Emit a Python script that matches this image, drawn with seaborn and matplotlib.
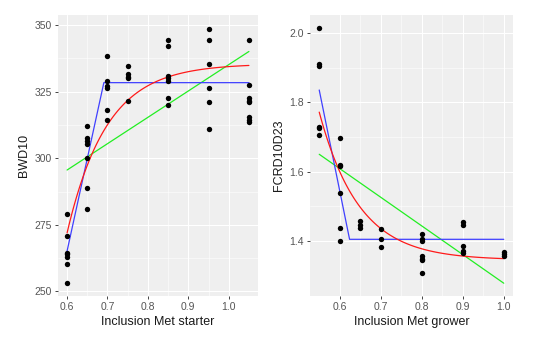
import numpy as np
import pandas as pd
import matplotlib
matplotlib.use("Agg")
import matplotlib.pyplot as plt
import seaborn as sns

# --- Starter phase: body weight at day 10 ---
starter_met = [0.60, 0.65, 0.70, 0.75, 0.85, 0.95, 1.05]
bwd10 = [
    [279, 271, 264.5, 264, 263, 260.5, 253],
    [312, 307.5, 306.5, 305.5, 300, 289, 281],
    [338.5, 329, 327, 326.5, 318, 314.5],
    [334.5, 331.5, 330.5, 330, 321.5],
    [344.5, 342, 331, 330, 329, 322.5, 320],
    [348.5, 344.5, 335.5, 326.5, 321, 311],
    [344.5, 327.5, 322.5, 321.5, 321, 315.5, 314.5, 313.5],
]
# broken-line fit: (start, breakpoint, end)
starter_bl_x = [0.60, 0.691, 1.05]
starter_bl_y = [265.2, 328.4, 328.4]
# exponential fit: y = a + b * exp(-k * (x - x0))
starter_exp = dict(a=335.5, b=-63.5, k=10.2, x0=0.60)
# linear fit endpoints
starter_lin_x = [0.60, 1.05]
starter_lin_y = [295.6, 340.1]

# --- Grower phase: feed conversion ratio day 10-23 ---
grower_met = [0.55, 0.60, 0.65, 0.70, 0.80, 0.90, 1.00]
fcrd10d23 = [
    [2.015, 1.91, 1.905, 1.73, 1.727, 1.707],
    [1.696, 1.618, 1.615, 1.538, 1.437, 1.398],
    [1.456, 1.445, 1.438],
    [1.435, 1.404, 1.382],
    [1.42, 1.406, 1.398, 1.355, 1.348, 1.343, 1.306],
    [1.454, 1.444, 1.386, 1.37, 1.365],
    [1.367, 1.362, 1.357],
]
grower_bl_x = [0.55, 0.624, 1.00]
grower_bl_y = [1.836, 1.404, 1.404]
grower_exp = dict(a=1.344, b=0.428, k=10.3, x0=0.55)
grower_lin_x = [0.55, 1.00]
grower_lin_y = [1.650, 1.277]


def long_frame(levels, groups, yname):
    xs, ys = [], []
    for lv, vals in zip(levels, groups):
        xs += [lv] * len(vals)
        ys += list(vals)
    return pd.DataFrame({"x": xs, yname: ys})


def exp_curve(p, lo, hi):
    xx = np.linspace(lo, hi, 120)
    yy = p["a"] + p["b"] * np.exp(-p["k"] * (xx - p["x0"]))
    return pd.DataFrame({"x": xx, "y": yy})


sns.set_theme(style="darkgrid")
plt.rcParams["font.family"] = ["Liberation Sans", "DejaVu Sans"]

PANEL = "#EFEFEF"
BLUE, RED, GREEN = "#4040FF", "#FF1A1A", "#22EE22"

fig = plt.figure(figsize=(5.37, 3.42), dpi=100)
fig.patch.set_facecolor("white")
ax1 = fig.add_axes([58 / 537, 46 / 342, 200 / 537, 281 / 342])
ax2 = fig.add_axes([310 / 537, 46 / 342, 203 / 537, 281 / 342])


def style_axes(ax, xticks, yticks, xlab, ylab, xlim, ylim, yfmt):
    ax.set_facecolor(PANEL)
    ax.set_xlim(*xlim)
    ax.set_ylim(*ylim)
    ax.set_xticks(xticks)
    ax.set_yticks(yticks)
    ax.set_xticklabels([f"{t:.1f}" for t in xticks])
    ax.set_yticklabels([yfmt.format(t) for t in yticks])
    mx = [(a + b) / 2 for a, b in zip(xticks[:-1], xticks[1:])]
    my = [(a + b) / 2 for a, b in zip(yticks[:-1], yticks[1:])]
    ax.set_xticks(mx, minor=True)
    ax.set_yticks(my, minor=True)
    ax.grid(which="major", color="white", linewidth=0.8)
    ax.grid(which="minor", color="white", linewidth=0.4)
    ax.tick_params(which="major", length=2.5, width=0.7, color="#444444",
                   labelsize=7.5, labelcolor="#555555", pad=2, bottom=True, left=True)
    ax.tick_params(which="minor", length=0)
    for s in ax.spines.values():
        s.set_visible(False)
    ax.set_xlabel(xlab, fontsize=9, color="#1A1A1A", labelpad=3)
    ax.set_ylabel(ylab, fontsize=9, color="#1A1A1A", labelpad=3)
    ax.set_axisbelow(True)


# left panel
d1 = long_frame(starter_met, bwd10, "BWD10")
sns.lineplot(x=starter_lin_x, y=starter_lin_y, ax=ax1, color=GREEN, linewidth=0.9)
sns.lineplot(x=starter_bl_x, y=starter_bl_y, ax=ax1, color=BLUE, linewidth=0.9, sort=False)
c1 = exp_curve(starter_exp, 0.60, 1.05)
sns.lineplot(data=c1, x="x", y="y", ax=ax1, color=RED, linewidth=0.9)
sns.scatterplot(data=d1, x="x", y="BWD10", ax=ax1, color="black", s=15, linewidth=0, zorder=3)
style_axes(ax1, [0.6, 0.7, 0.8, 0.9, 1.0], [250, 275, 300, 325, 350],
           "Inclusion Met starter", "BWD10", (0.5775, 1.0725), (248.3, 353.8), "{:.0f}")

# right panel
d2 = long_frame(grower_met, fcrd10d23, "FCRD10D23")
sns.lineplot(x=grower_lin_x, y=grower_lin_y, ax=ax2, color=GREEN, linewidth=0.9)
sns.lineplot(x=grower_bl_x, y=grower_bl_y, ax=ax2, color=BLUE, linewidth=0.9, sort=False)
c2 = exp_curve(grower_exp, 0.55, 1.00)
sns.lineplot(data=c2, x="x", y="y", ax=ax2, color=RED, linewidth=0.9)
sns.scatterplot(data=d2, x="x", y="FCRD10D23", ax=ax2, color="black", s=15, linewidth=0, zorder=3)
style_axes(ax2, [0.6, 0.7, 0.8, 0.9, 1.0], [1.4, 1.6, 1.8, 2.0],
           "Inclusion Met grower", "FCRD10D23", (0.5275, 1.0225), (1.24, 2.053), "{:.1f}")

fig.savefig("out.png", dpi=100)
